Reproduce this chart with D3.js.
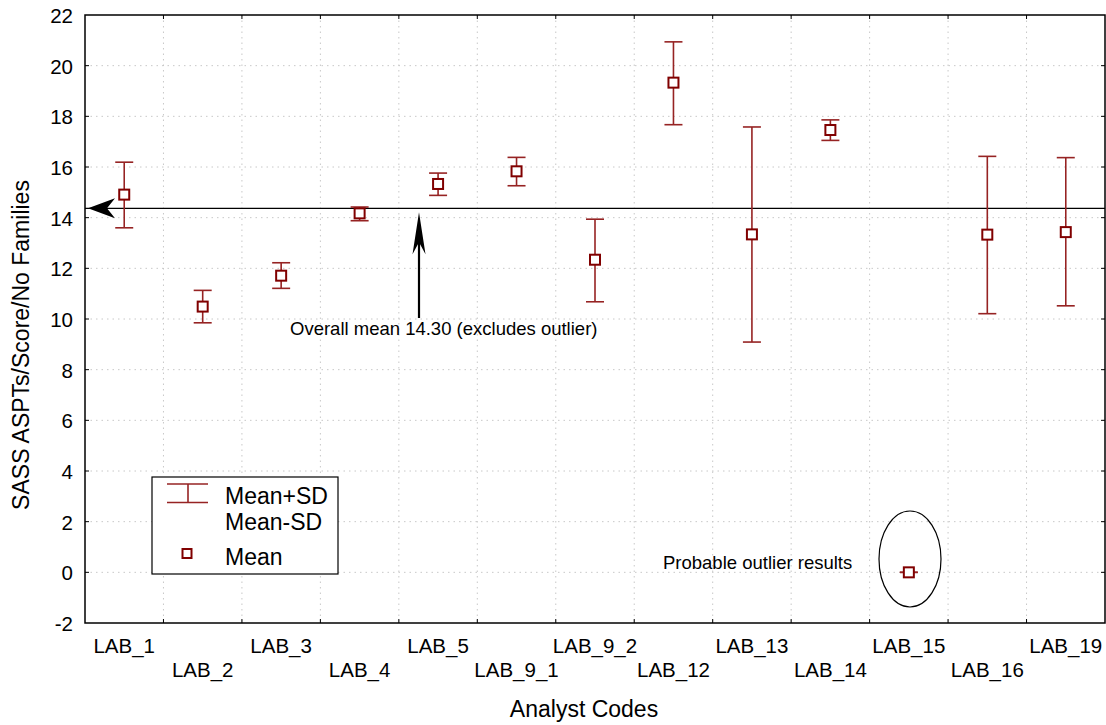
<!DOCTYPE html>
<html>
<head>
<meta charset="utf-8">
<script src="https://cdn.jsdelivr.net/npm/d3@7"></script>
<style>
body { margin: 0; padding: 0; background: #fff; }
svg { display: block; font-family: "Liberation Sans", Arial, sans-serif; }
</style>
</head>
<body>
<script>
// data
var labs = ["LAB_1", "LAB_2", "LAB_3", "LAB_4", "LAB_5", "LAB_9_1", "LAB_9_2",
            "LAB_12", "LAB_13", "LAB_14", "LAB_15", "LAB_16", "LAB_19"];
var means = [14.91, 10.49, 11.71, 14.17, 15.33, 15.83, 12.34, 19.33, 13.34, 17.46, 0.0, 13.33, 13.43];
var upper = [16.19, 11.13, 12.22, 14.42, 15.76, 16.38, 13.94, 20.94, 17.58, 17.86, 0.0, 16.42, 16.37];
var lower = [13.60, 9.85, 11.21, 13.88, 14.88, 15.26, 10.68, 17.67, 9.09, 17.05, 0.0, 10.21, 10.52];
var yTicks = [-2, 0, 2, 4, 6, 8, 10, 12, 14, 16, 18, 20, 22];
var overallMean = 14.37;

var width = 1106, height = 725;
var margin = {left: 85, top: 15, right: 1, bottom: 102};
var pw = width - margin.left - margin.right;
var ph = height - margin.top - margin.bottom;

var svg = d3.select("body").append("svg")
    .attr("width", width)
    .attr("height", height);

var x = d3.scaleBand().domain(labs).range([margin.left, margin.left + pw]);
var y = d3.scaleLinear().domain([-2, 22]).range([margin.top + ph, margin.top]);

var darkRed = "#800000";
var barRed = "#962323";

function label(parent, tx, ty, str, size, anchor) {
    return parent.append("text")
        .attr("x", tx).attr("y", ty)
        .attr("text-anchor", anchor || "start")
        .attr("font-size", size)
        .text(str);
}

// grid
var grid = svg.append("g").attr("stroke", "#c8c8c8").attr("stroke-dasharray", "1.5,4");
grid.selectAll(".hg").data(yTicks.slice(1, -1)).enter().append("line")
    .attr("x1", margin.left).attr("x2", margin.left + pw)
    .attr("y1", function(d){ return y(d); }).attr("y2", function(d){ return y(d); });
var bounds = d3.range(1, labs.length).map(function(i){ return margin.left + i * x.step(); });
grid.selectAll(".vg").data(bounds).enter().append("line")
    .attr("x1", function(d){ return d; }).attr("x2", function(d){ return d; })
    .attr("y1", margin.top).attr("y2", margin.top + ph);

// axes
svg.append("rect")
    .attr("x", margin.left).attr("y", margin.top)
    .attr("width", pw).attr("height", ph)
    .attr("fill", "none").attr("stroke", "#000").attr("stroke-width", 1.5);

var ticks = svg.append("g").attr("stroke", "#000").attr("stroke-width", 1);
ticks.selectAll(".tb").data(bounds).enter().append("line")
    .attr("x1", function(d){ return d; }).attr("x2", function(d){ return d; })
    .attr("y1", margin.top + ph).attr("y2", margin.top + ph - 4);
ticks.selectAll(".tt").data(bounds).enter().append("line")
    .attr("x1", function(d){ return d; }).attr("x2", function(d){ return d; })
    .attr("y1", margin.top).attr("y2", margin.top + 4);
ticks.selectAll(".tr").data(yTicks.slice(1, -1)).enter().append("line")
    .attr("x1", margin.left + pw).attr("x2", margin.left + pw - 4)
    .attr("y1", function(d){ return y(d); }).attr("y2", function(d){ return y(d); });
ticks.selectAll(".tl").data(yTicks.slice(1, -1)).enter().append("line")
    .attr("x1", margin.left).attr("x2", margin.left + 4)
    .attr("y1", function(d){ return y(d); }).attr("y2", function(d){ return y(d); });

yTicks.forEach(function(d) {
    label(svg, 73, y(d) + 8, d, 20.5, "end");
});

labs.forEach(function(d, i) {
    label(svg, x(d) + x.bandwidth() / 2, i % 2 === 0 ? 653 : 677, d, 20.5, "middle");
});

label(svg, 584, 717, "Analyst Codes", 23, "middle");

svg.append("text")
    .attr("transform", "translate(29,345) rotate(-90)")
    .attr("text-anchor", "middle")
    .attr("font-size", 23)
    .text("SASS ASPTs/Score/No Families");

// overall mean line and arrows
svg.append("line")
    .attr("x1", margin.left).attr("x2", margin.left + pw)
    .attr("y1", y(overallMean)).attr("y2", y(overallMean))
    .attr("stroke", "#000").attr("stroke-width", 1.3);

var ym = y(overallMean);
svg.append("path")
    .attr("d", "M" + (margin.left + 3) + "," + ym + " L" + (margin.left + 30) + "," + (ym - 10) +
               " L" + (margin.left + 22) + "," + ym + " L" + (margin.left + 30) + "," + (ym + 10) + "Z")
    .attr("fill", "#000");

var ax = 419;
svg.append("line")
    .attr("x1", ax).attr("x2", ax)
    .attr("y1", ym + 20).attr("y2", 318)
    .attr("stroke", "#000").attr("stroke-width", 2.2);
svg.append("path")
    .attr("d", "M" + ax + "," + (ym + 4) + " L" + (ax - 6.5) + "," + (ym + 46) +
               " L" + ax + "," + (ym + 34) + " L" + (ax + 6.5) + "," + (ym + 46) + "Z")
    .attr("fill", "#000");

label(svg, 290, 335, "Overall mean 14.30 (excludes outlier)", 18.5);

// error bars
var bars = svg.selectAll(".eb").data(labs).enter().append("g")
    .attr("stroke", barRed).attr("stroke-width", 1.6);
bars.append("line")
    .attr("x1", function(d){ return x(d) + x.bandwidth() / 2; })
    .attr("x2", function(d){ return x(d) + x.bandwidth() / 2; })
    .attr("y1", function(d, i){ return y(upper[i]); })
    .attr("y2", function(d, i){ return y(lower[i]); });
bars.append("line")
    .attr("x1", function(d){ return x(d) + x.bandwidth() / 2 - 9; })
    .attr("x2", function(d){ return x(d) + x.bandwidth() / 2 + 9; })
    .attr("y1", function(d, i){ return y(upper[i]); })
    .attr("y2", function(d, i){ return y(upper[i]); });
bars.append("line")
    .attr("x1", function(d){ return x(d) + x.bandwidth() / 2 - 9; })
    .attr("x2", function(d){ return x(d) + x.bandwidth() / 2 + 9; })
    .attr("y1", function(d, i){ return y(lower[i]); })
    .attr("y2", function(d, i){ return y(lower[i]); });

svg.selectAll(".mk").data(labs).enter().append("rect")
    .attr("x", function(d){ return x(d) + x.bandwidth() / 2 - 5; })
    .attr("y", function(d, i){ return y(means[i]) - 5; })
    .attr("width", 10).attr("height", 10)
    .attr("fill", "#fff").attr("stroke", darkRed).attr("stroke-width", 2);

// outlier annotation
svg.append("ellipse")
    .attr("cx", 910).attr("cy", 559)
    .attr("rx", 31).attr("ry", 48)
    .attr("fill", "none").attr("stroke", "#000").attr("stroke-width", 1.2);
label(svg, 663, 569, "Probable outlier results", 18.5);

// legend
var lg = svg.append("g");
lg.append("rect")
    .attr("x", 152).attr("y", 477).attr("width", 186).attr("height", 97)
    .attr("fill", "#fff").attr("stroke", "#000").attr("stroke-width", 1.2);
var lgi = lg.append("g").attr("stroke", barRed).attr("stroke-width", 1.6);
lgi.append("line").attr("x1", 167).attr("x2", 208).attr("y1", 484).attr("y2", 484);
lgi.append("line").attr("x1", 167).attr("x2", 208).attr("y1", 502.5).attr("y2", 502.5);
lgi.append("line").attr("x1", 188).attr("x2", 188).attr("y1", 484).attr("y2", 502.5);
lg.append("rect")
    .attr("x", 182.5).attr("y", 549).attr("width", 9).attr("height", 9)
    .attr("fill", "#fff").attr("stroke", darkRed).attr("stroke-width", 2);
label(lg, 225, 504, "Mean+SD", 23);
label(lg, 225, 530, "Mean-SD", 23);
label(lg, 225, 565, "Mean", 23);
</script>
</body>
</html>
